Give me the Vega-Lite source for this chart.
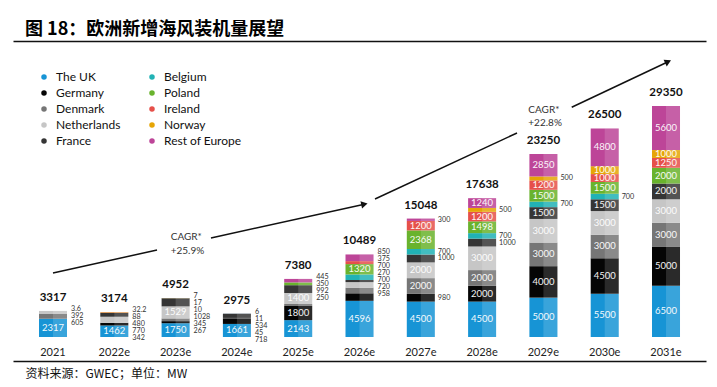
{
  "$schema": "https://vega.github.io/schema/vega-lite/v6.json",
  "width": 693,
  "height": 320,
  "autosize": {"type": "none"},
  "padding": {"left": 13, "top": 41, "right": 11, "bottom": 26},
  "background": "#ffffff",
  "config": {"view": {"stroke": null}, "font": "Lato"},
  "title": {
    "text": "图 18：欧洲新增海风装机量展望",
    "anchor": "start",
    "dx": 12,
    "offset": -16,
    "baseline": "bottom",
    "font": "Noto Sans CJK SC",
    "fontSize": 18,
    "fontWeight": "bold",
    "color": "#000000"
  },
  "datasets": {
    "installs": [
      {"year": "2021", "total": 3317, "The UK": 2317, "Germany": 0, "Denmark": 605, "Netherlands": 392, "France": 0, "Belgium": 0, "Poland": 0, "Ireland": 0, "Norway": 3.6, "Rest of Europe": 0},
      {"year": "2022e", "total": 3174, "The UK": 1462, "Germany": 342, "Denmark": 0, "Netherlands": 770, "France": 480, "Belgium": 0, "Poland": 0, "Ireland": 0, "Norway": 88, "Rest of Europe": 32.2},
      {"year": "2023e", "total": 4952, "The UK": 1750, "Germany": 267, "Denmark": 345, "Netherlands": 1529, "France": 1028, "Belgium": 10, "Poland": 0, "Ireland": 0, "Norway": 17, "Rest of Europe": 7},
      {"year": "2024e", "total": 2975, "The UK": 1661, "Germany": 718, "Denmark": 45, "Netherlands": 0, "France": 534, "Belgium": 11, "Poland": 0, "Ireland": 0, "Norway": 0, "Rest of Europe": 6},
      {"year": "2025e", "total": 7380, "The UK": 2143, "Germany": 1800, "Denmark": 250, "Netherlands": 1400, "France": 992, "Belgium": 0, "Poland": 350, "Ireland": 0, "Norway": 0, "Rest of Europe": 445},
      {"year": "2026e", "total": 10489, "The UK": 4596, "Germany": 958, "Denmark": 720, "Netherlands": 700, "France": 270, "Belgium": 700, "Poland": 1320, "Ireland": 375, "Norway": 0, "Rest of Europe": 850},
      {"year": "2027e", "total": 15048, "The UK": 4500, "Germany": 980, "Denmark": 2000, "Netherlands": 2000, "France": 1000, "Belgium": 700, "Poland": 2368, "Ireland": 1200, "Norway": 0, "Rest of Europe": 300},
      {"year": "2028e", "total": 17638, "The UK": 4500, "Germany": 2000, "Denmark": 2000, "Netherlands": 3000, "France": 1000, "Belgium": 700, "Poland": 1498, "Ireland": 1200, "Norway": 500, "Rest of Europe": 1240},
      {"year": "2029e", "total": 23250, "The UK": 5000, "Germany": 4000, "Denmark": 3000, "Netherlands": 3000, "France": 1500, "Belgium": 700, "Poland": 1500, "Ireland": 1200, "Norway": 500, "Rest of Europe": 2850},
      {"year": "2030e", "total": 26500, "The UK": 5500, "Germany": 4500, "Denmark": 3000, "Netherlands": 3000, "France": 1500, "Belgium": 700, "Poland": 1500, "Ireland": 1000, "Norway": 1000, "Rest of Europe": 4800},
      {"year": "2031e", "total": 29350, "The UK": 6500, "Germany": 5000, "Denmark": 3000, "Netherlands": 3000, "France": 2000, "Belgium": 0, "Poland": 2000, "Ireland": 1250, "Norway": 1000, "Rest of Europe": 5600}
    ],
    "notes": [
      {"kind": "line", "seg": "a", "x": 0, "y": 8132},
      {"kind": "line", "seg": "a", "x": 1.697, "y": 11054},
      {"kind": "line", "seg": "b", "x": 2.577, "y": 12579},
      {"kind": "line", "seg": "b", "x": 5.08, "y": 16874},
      {"kind": "line", "seg": "c", "x": 5.253, "y": 17534},
      {"kind": "line", "seg": "c", "x": 7.569, "y": 25920},
      {"kind": "line", "seg": "d", "x": 8.462, "y": 29186},
      {"kind": "line", "seg": "d", "x": 10.034, "y": 34980},
      {"kind": "head1", "x": 5.08, "y": 16874},
      {"kind": "head2", "x": 10.034, "y": 34980},
      {"kind": "text", "x": 1.92, "y": 12668, "label": "CAGR*"},
      {"kind": "text", "x": 1.92, "y": 10965, "label": "+25.9%"},
      {"kind": "text", "x": 7.754, "y": 28843, "label": "CAGR*"},
      {"kind": "text", "x": 7.754, "y": 27229, "label": "+22.8%"}
    ]
  },
  "layer": [
    {
      "data": {"name": "installs"},
      "transform": [
        {"fold": ["The UK", "Germany", "Denmark", "Netherlands", "France", "Belgium", "Poland", "Ireland", "Norway", "Rest of Europe"], "as": ["country", "value"]},
        {"window": [{"op": "row_number", "as": "ci"}], "groupby": ["year"]}
      ],
      "encoding": {
        "x": {
          "field": "year",
          "type": "ordinal",
          "sort": null,
          "scale": {"paddingInner": 0.5432, "paddingOuter": 0.424},
          "axis": {
            "orient": "bottom",
            "domain": true,
            "domainColor": "#111111",
            "domainWidth": 1.3,
            "ticks": false,
            "tickSize": 0,
            "grid": false,
            "labelPadding": -6,
            "labelBaseline": "alphabetic",
            "labelAngle": 0,
            "labelFont": "Lato",
            "labelFontSize": 11,
            "labelColor": "#222222",
            "title": "资料来源：GWEC；单位：MW",
            "titleFont": "Noto Sans CJK SC",
            "titleFontSize": 12,
            "titleFontWeight": "normal",
            "titleColor": "#111111",
            "titleAlign": "left",
            "titleAnchor": "start",
            "titleBaseline": "middle",
            "titleX": 12,
            "titleY": 12
          }
        }
      },
      "layer": [
        {
          "mark": {"type": "bar"},
          "encoding": {
            "y": {"field": "value", "type": "quantitative", "stack": "zero", "scale": {"domain": [-3049, 37610], "nice": false, "zero": false}, "axis": null},
            "color": {
              "field": "country",
              "type": "nominal",
              "scale": {
                "domain": ["The UK", "Germany", "Denmark", "Netherlands", "France", "Belgium", "Poland", "Ireland", "Norway", "Rest of Europe"],
                "range": ["#1794d5", "#050505", "#767676", "#c6c6c6", "#353535", "#21b2b5", "#69b32d", "#e6504a", "#e6a505", "#bd4598"]
              },
              "legend": {
                "orient": "none",
                "legendX": 25,
                "legendY": 30,
                "columns": 2,
                "direction": "vertical",
                "title": null,
                "padding": 0,
                "symbolType": "circle",
                "symbolSize": 30,
                "symbolStrokeWidth": 0,
                "labelFont": "Lato",
                "labelFontSize": 12,
                "labelColor": "#111111",
                "labelOffset": 6,
                "rowPadding": 4,
                "columnPadding": 25
              }
            },
            "order": {"field": "ci", "type": "quantitative", "sort": "ascending"}
          }
        },
        {
          "mark": {"type": "bar", "color": "#ffffff", "opacity": 0.15, "width": 14, "xOffset": 7},
          "encoding": {
            "y": {"aggregate": "sum", "field": "value", "type": "quantitative", "scale": {"domain": [-3049, 37610], "nice": false, "zero": false}, "axis": null}
          }
        },
        {
          "mark": {"type": "text", "color": "#ffffff", "fontSize": 9.5, "baseline": "middle", "opacity": 0.95},
          "encoding": {
            "y": {"field": "value", "type": "quantitative", "stack": "zero", "bandPosition": 0.5, "scale": {"domain": [-3049, 37610], "nice": false, "zero": false}, "axis": null},
            "detail": {"field": "country"},
            "order": {"field": "ci", "type": "quantitative", "sort": "ascending"},
            "text": {
              "condition": {"test": "datum.value >= 1200 || (datum.value >= 1000 && indexof(['2029e','2030e','2031e'], datum.year) >= 0)", "field": "value", "type": "nominal"},
              "value": ""
            }
          }
        },
        {
          "mark": {"type": "text", "color": "#333333", "fontSize": 7.2, "baseline": "middle", "align": "left", "dx": 17},
          "encoding": {
            "y": {"field": "value", "type": "quantitative", "stack": "zero", "bandPosition": 0.5, "scale": {"domain": [-3049, 37610], "nice": false, "zero": false}, "axis": null},
            "detail": {"field": "country"},
            "order": {"field": "ci", "type": "quantitative", "sort": "ascending"},
            "text": {
              "condition": {"test": "indexof(['2027e','2028e','2029e','2030e','2031e'], datum.year) >= 0 && datum.value > 0 && !(datum.value >= 1200 || (datum.value >= 1000 && indexof(['2029e','2030e','2031e'], datum.year) >= 0))", "field": "value", "type": "nominal"},
              "value": ""
            }
          }
        },
        {
          "transform": [{"filter": "datum.ci == 1"}],
          "mark": {"type": "text", "color": "#111111", "fontSize": 11.5, "fontWeight": "bold", "baseline": "alphabetic", "dy": -10},
          "encoding": {
            "y": {"field": "total", "type": "quantitative", "stack": null, "scale": {"domain": [-3049, 37610], "nice": false, "zero": false}, "axis": null},
            "text": {"field": "total", "type": "nominal"}
          }
        },
        {
          "transform": [
            {"filter": "indexof(['2021','2022e','2023e','2024e','2025e','2026e'], datum.year) >= 0 && datum.value > 0 && datum.value < 1200"},
            {"window": [{"op": "row_number", "as": "k"}], "groupby": ["year"], "sort": [{"field": "ci", "order": "descending"}]}
          ],
          "encoding": {
            "y": {"field": "total", "type": "quantitative", "stack": null, "scale": {"domain": [-3049, 37610], "nice": false, "zero": false}, "axis": null},
            "text": {"field": "value", "type": "nominal"}
          },
          "layer": [
            {"transform": [{"filter": "datum.k == 1"}], "mark": {"type": "text", "align": "left", "baseline": "middle", "dx": 18, "dy": -2, "fontSize": 7.2, "color": "#333333"}},
            {"transform": [{"filter": "datum.k == 2"}], "mark": {"type": "text", "align": "left", "baseline": "middle", "dx": 18, "dy": 5, "fontSize": 7.2, "color": "#333333"}},
            {"transform": [{"filter": "datum.k == 3"}], "mark": {"type": "text", "align": "left", "baseline": "middle", "dx": 18, "dy": 12, "fontSize": 7.2, "color": "#333333"}},
            {"transform": [{"filter": "datum.k == 4"}], "mark": {"type": "text", "align": "left", "baseline": "middle", "dx": 18, "dy": 19, "fontSize": 7.2, "color": "#333333"}},
            {"transform": [{"filter": "datum.k == 5"}], "mark": {"type": "text", "align": "left", "baseline": "middle", "dx": 18, "dy": 26, "fontSize": 7.2, "color": "#333333"}},
            {"transform": [{"filter": "datum.k == 6"}], "mark": {"type": "text", "align": "left", "baseline": "middle", "dx": 18, "dy": 33, "fontSize": 7.2, "color": "#333333"}},
            {"transform": [{"filter": "datum.k == 7"}], "mark": {"type": "text", "align": "left", "baseline": "middle", "dx": 18, "dy": 40, "fontSize": 7.2, "color": "#333333"}}
          ]
        }
      ]
    },
    {
      "data": {"name": "notes"},
      "encoding": {
        "x": {
          "field": "x",
          "type": "quantitative",
          "scale": {"domain": [-0.6525, 10.6525], "nice": false, "zero": false},
          "axis": {"orient": "top", "domain": true, "domainColor": "#111111", "domainWidth": 1.3, "ticks": false, "labels": false, "grid": false, "title": null}
        },
        "y": {"field": "y", "type": "quantitative", "scale": {"domain": [-3049, 37610], "nice": false, "zero": false}, "axis": null}
      },
      "layer": [
        {
          "transform": [{"filter": "datum.kind == 'line'"}],
          "mark": {"type": "line", "color": "#111111", "strokeWidth": 1.5},
          "encoding": {"detail": {"field": "seg"}}
        },
        {
          "transform": [{"filter": "datum.kind == 'head1'"}],
          "mark": {"type": "point", "shape": "triangle-right", "filled": true, "color": "#111111", "opacity": 1, "size": 55, "angle": 347.4}
        },
        {
          "transform": [{"filter": "datum.kind == 'head2'"}],
          "mark": {"type": "point", "shape": "triangle-right", "filled": true, "color": "#111111", "opacity": 1, "size": 55, "angle": 334.7}
        },
        {
          "transform": [{"filter": "datum.kind == 'text'"}],
          "mark": {"type": "text", "align": "left", "baseline": "middle", "fontSize": 10, "color": "#333333"},
          "encoding": {"text": {"field": "label", "type": "nominal"}}
        }
      ]
    }
  ],
  "resolve": {"scale": {"x": "independent"}}
}
